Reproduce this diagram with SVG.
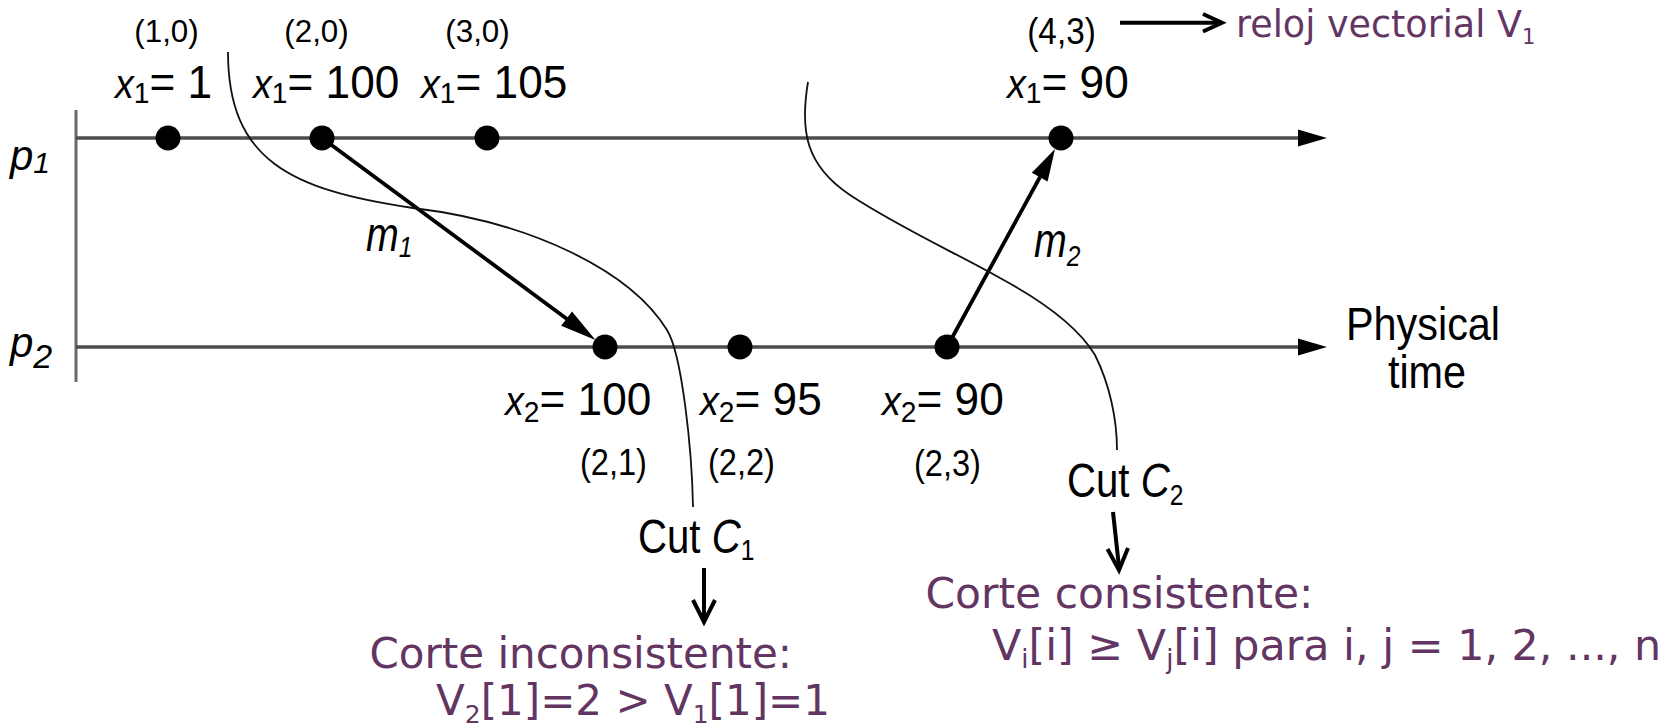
<svg xmlns="http://www.w3.org/2000/svg" width="1671" height="728" viewBox="0 0 1671 728">
<style>
.lbl{font-family:"Liberation Sans",Arial,sans-serif;fill:#000}
.it{font-style:italic}
.pur{font-family:"DejaVu Sans","Liberation Sans",sans-serif;fill:#633563;font-size:42px}
.axis{stroke:#4d4d4d;stroke-width:3.5;fill:none}
.vaxis{stroke:#6a6a6a;stroke-width:3;fill:none}
.msg{stroke:#000;stroke-width:3.8;fill:none}
.cut{stroke:#111;stroke-width:1.8;fill:none}
.dot{fill:#000}
.note{stroke:#000;stroke-width:4;fill:none}
</style>
<rect width="1671" height="728" fill="#fff"/>

<g id="axes">
  <line class="vaxis" x1="76" y1="110" x2="76" y2="382"/>
  <line class="axis" x1="76" y1="138" x2="1300" y2="138"/>
  <polygon points="1298,129.5 1327,138 1298,146.5" fill="#000"/>
  <line class="axis" x1="76" y1="347" x2="1300" y2="347"/>
  <polygon points="1298,338.5 1327,347 1298,355.5" fill="#000"/>
  <text class="lbl" font-size="42" x="10" y="170"><tspan class="it">p</tspan><tspan class="it" font-size="30" dy="3">1</tspan></text>
  <text class="lbl" font-size="42" x="10" y="357"><tspan class="it">p</tspan><tspan class="it" font-size="34" dy="11">2</tspan></text>
  <text class="lbl" font-size="46" text-anchor="middle" transform="translate(1423,340) scale(0.9,1)">Physical</text>
  <text class="lbl" font-size="46" text-anchor="middle" transform="translate(1427,388) scale(0.9,1)">time</text>
</g>

<g id="e11">
  <circle class="dot" cx="168" cy="138" r="12.5"/>
  <text class="lbl" font-size="32" text-anchor="middle" transform="translate(166.5,42) scale(0.98,1)">(1,0)</text>
  <text class="lbl" font-size="47" transform="translate(115,98) scale(0.94,1)"><tspan class="it" font-size="40">x</tspan><tspan font-size="30" dy="5">1</tspan><tspan dy="-5">= 1</tspan></text>
</g>
<g id="e12">
  <circle class="dot" cx="322" cy="138" r="12.5"/>
  <text class="lbl" font-size="32" text-anchor="middle" transform="translate(316.5,42) scale(0.98,1)">(2,0)</text>
  <text class="lbl" font-size="47" transform="translate(253,98) scale(0.94,1)"><tspan class="it" font-size="40">x</tspan><tspan font-size="30" dy="5">1</tspan><tspan dy="-5">= 100</tspan></text>
</g>
<g id="e13">
  <circle class="dot" cx="487" cy="138" r="12.5"/>
  <text class="lbl" font-size="32" text-anchor="middle" transform="translate(477.5,42) scale(0.98,1)">(3,0)</text>
  <text class="lbl" font-size="47" transform="translate(421,98) scale(0.94,1)"><tspan class="it" font-size="40">x</tspan><tspan font-size="30" dy="5">1</tspan><tspan dy="-5">= 105</tspan></text>
</g>
<g id="e14">
  <circle class="dot" cx="1061" cy="138" r="12.5"/>
  <text class="lbl" font-size="37" text-anchor="middle" transform="translate(1061.5,44) scale(0.9,1)">(4,3)</text>
  <text class="lbl" font-size="47" transform="translate(1007,98) scale(0.94,1)"><tspan class="it" font-size="40">x</tspan><tspan font-size="30" dy="5">1</tspan><tspan dy="-5">= 90</tspan></text>
</g>
<g id="e21">
  <circle class="dot" cx="605" cy="347" r="12.5"/>
  <text class="lbl" font-size="47" transform="translate(505,415) scale(0.94,1)"><tspan class="it" font-size="40">x</tspan><tspan font-size="30" dy="7">2</tspan><tspan dy="-7">= 100</tspan></text>
  <text class="lbl" font-size="37" text-anchor="middle" transform="translate(613.5,475) scale(0.88,1)">(2,1)</text>
</g>
<g id="e22">
  <circle class="dot" cx="740" cy="347" r="12.5"/>
  <text class="lbl" font-size="47" transform="translate(700,415) scale(0.94,1)"><tspan class="it" font-size="40">x</tspan><tspan font-size="30" dy="7">2</tspan><tspan dy="-7">= 95</tspan></text>
  <text class="lbl" font-size="37" text-anchor="middle" transform="translate(741.5,475) scale(0.88,1)">(2,2)</text>
</g>
<g id="e23">
  <circle class="dot" cx="947" cy="347" r="12.5"/>
  <text class="lbl" font-size="47" transform="translate(882,415) scale(0.94,1)"><tspan class="it" font-size="40">x</tspan><tspan font-size="30" dy="7">2</tspan><tspan dy="-7">= 90</tspan></text>
  <text class="lbl" font-size="37" text-anchor="middle" transform="translate(947.5,476) scale(0.88,1)">(2,3)</text>
</g>

<g id="cut1">
  <text class="lbl" font-size="49" transform="translate(638,553) scale(0.82,1)">Cut <tspan class="it">C</tspan><tspan font-size="30" dy="7">1</tspan></text>
</g>
<g id="cut2">
  <text class="lbl" font-size="49" transform="translate(1067,497) scale(0.82,1)">Cut <tspan class="it">C</tspan><tspan font-size="30" dy="8">2</tspan></text>
</g>

<g id="note-reloj">
  <text class="pur" x="1236" y="37" style="font-size:36.5px">reloj vectorial V<tspan style="font-size:21px" dy="7">1</tspan></text>
</g>
<g id="note-inconsistente">
  <text class="pur" x="369.5" y="668">Corte inconsistente:</text>
  <text class="pur" x="436" y="715">V<tspan style="font-size:25px" dy="8">2</tspan><tspan dy="-8">[1]=2 &gt; V</tspan><tspan style="font-size:25px" dy="8">1</tspan><tspan dy="-8">[1]=1</tspan></text>
</g>
<g id="note-consistente">
  <text class="pur" x="925.5" y="608" style="font-size:42.4px">Corte consistente:</text>
  <text class="pur" x="992" y="660" style="font-size:42.8px">V<tspan style="font-size:26px" dy="8">i</tspan><tspan dy="-8">[i] ≥ V</tspan><tspan style="font-size:26px" dy="8">j</tspan><tspan dy="-8">[i] para i, j = 1, 2, ..., n</tspan></text>
</g>

<g id="connectors">
  <line class="msg" x1="322" y1="138" x2="567" y2="319"/>
  <polygon points="595.5,340 561.2,325.8 572,311.4" fill="#000"/>
  <line class="msg" x1="947" y1="347" x2="1040" y2="177"/>
  <polygon points="1055,149 1047.6,181.4 1031.8,172.8" fill="#000"/>
  <text class="lbl" font-size="48" transform="translate(366,251) scale(0.82,1)"><tspan class="it">m</tspan><tspan class="it" font-size="30" dy="6">1</tspan></text>
  <text class="lbl" font-size="48" transform="translate(1034,257) scale(0.82,1)"><tspan class="it">m</tspan><tspan class="it" font-size="30" dy="9">2</tspan></text>
  <path class="cut" d="M228,52 C228,160 290,190 413,208 C530,222 630,270 667,330 C682,354 692,450 693,507"/>
  <path class="cut" d="M808,82 C800,130 805,165 850,195 C900,228 960,255 1000,278 C1050,305 1080,330 1095,355 C1110,385 1117,420 1117,450"/>
  <line class="note" x1="1120" y1="22.7" x2="1220" y2="22.7"/>
  <polyline class="note" points="1203,14 1222,22.7 1203,31.5"/>
  <line class="note" x1="704" y1="568" x2="704" y2="619"/>
  <polyline class="note" stroke-width="3.5" points="693,600 704,622 715,600"/>
  <line class="note" x1="1113" y1="512" x2="1119" y2="567"/>
  <polyline class="note" stroke-width="3.5" points="1107.5,549 1119,570 1128,548"/>
</g>
</svg>
